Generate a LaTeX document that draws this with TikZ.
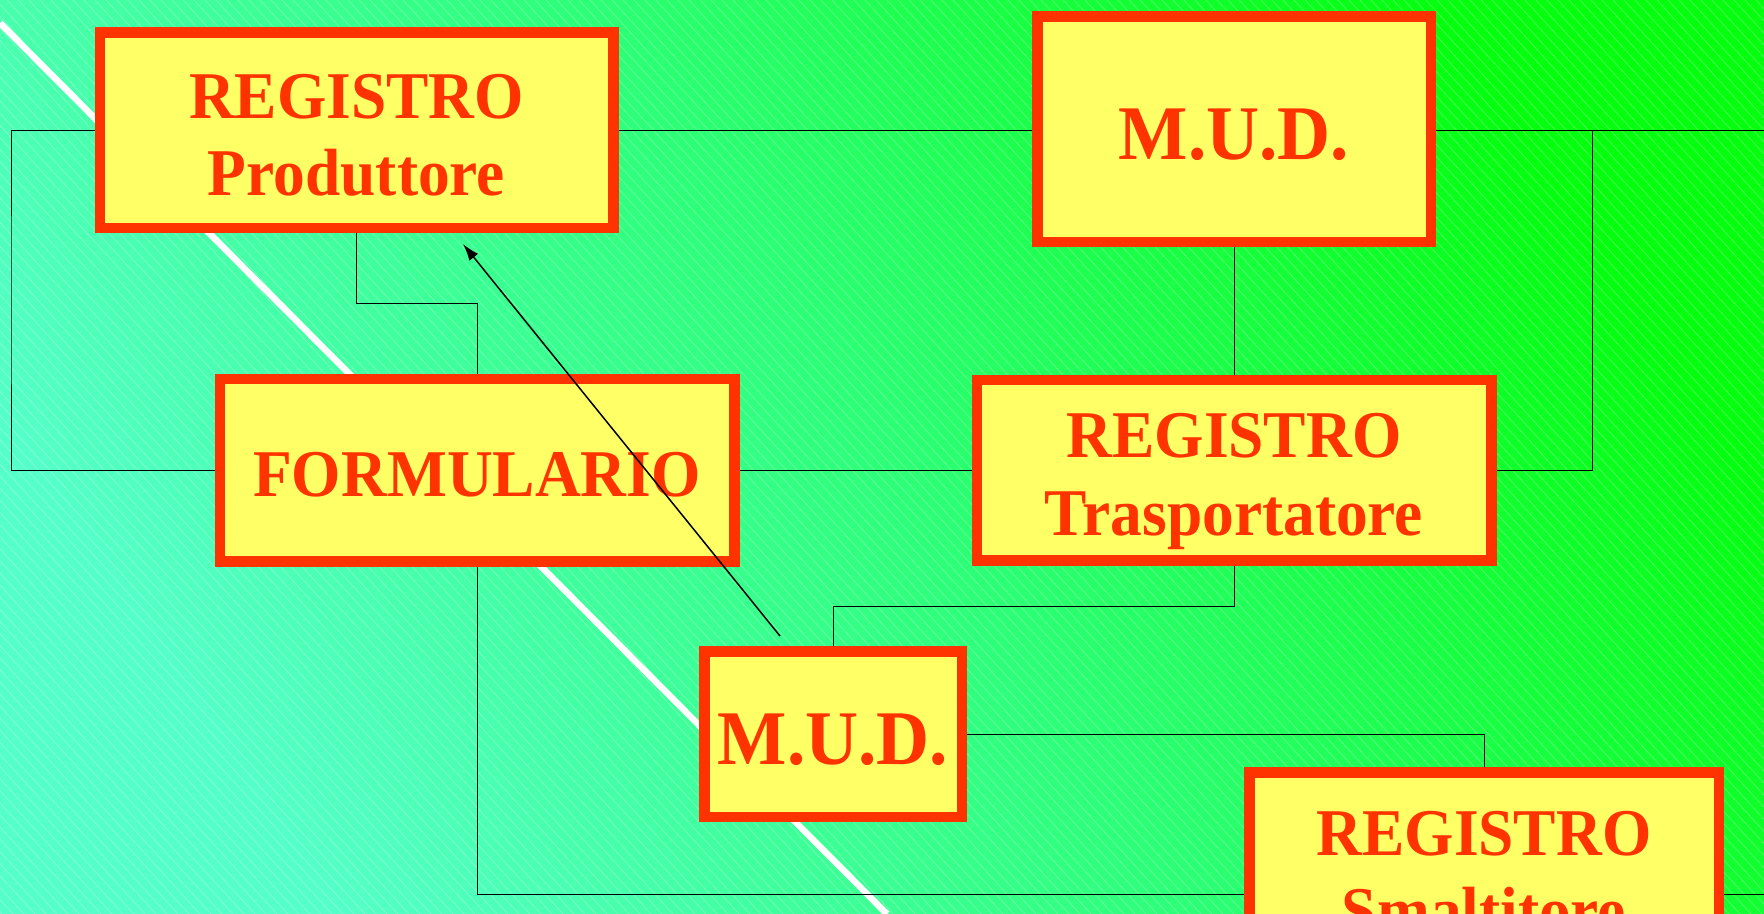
\documentclass[tikz,border=0pt]{standalone}
\usepackage{fontspec}
\newfontfamily\boxfont[FakeStretch=0.95]{Liberation Serif}
\usetikzlibrary{arrows.meta}
\definecolor{boxred}{RGB}{255,51,0}
\definecolor{boxyellow}{RGB}{255,255,102}
\definecolor{bgturq}{RGB}{85,255,200}
\definecolor{bgmid}{RGB}{45,255,120}
\definecolor{bggreen}{RGB}{5,255,15}
\pgfdeclarelayer{backdrop}
\pgfdeclarelayer{wires}
\pgfsetlayers{backdrop,wires,main}
\newcommand{\boxstrut}[1]{\rule{0pt}{#1}}
\tikzset{
  textdrop/.style={execute at begin node={\boxstrut{#1}}},
  regbox/.style={draw=boxred, fill=boxyellow, line width=1.05mm, inner sep=0pt,
    text=boxred, align=center,
    font=\boxfont\bfseries\fontsize{19}{22}\selectfont},
  mudbox/.style={regbox, textdrop=6.2mm, font=\boxfont\bfseries\fontsize{22}{25}\selectfont},
  link/.style={draw=black, line width=0.1mm},
}

\begin{document}
\begin{tikzpicture}[x=0.1mm,y=-0.1mm]
\useasboundingbox (0,0) rectangle (1764,914);

\begin{pgfonlayer}{backdrop}
\fill[bottom color=bgturq, top color=bggreen, middle color=bgmid, shading angle=-56] (0,0) rectangle (1764,914);
\foreach \i in {-840,-829,...,1764}
  \draw[white, opacity=.25, line width=0.08mm] (\i,0) -- ++(831,914);
\draw[white, line width=0.65mm] (0,23) -- (887,914);
\end{pgfonlayer}

\node[regbox, minimum width=51.35mm, minimum height=19.55mm] (rp) at (356.5,130) {\boxstrut{5.45mm}REGISTRO\\Produttore};
\node[mudbox, minimum width=39.35mm, minimum height=22.55mm] (mt) at (1234,129) {M.U.D.};
\node[regbox, textdrop=5.45mm, minimum width=51.45mm, minimum height=18.25mm] (form) at (477,470) {FORMULARIO};
\node[regbox, minimum width=51.45mm, minimum height=18.05mm] (rt) at (1234,470) {\boxstrut{6.7mm}REGISTRO\\Trasportatore};
\node[mudbox, minimum width=25.75mm, minimum height=16.55mm] (mb) at (833,734) {M.U.D.};
\node[regbox, minimum width=46.95mm, minimum height=19.05mm] (rs) at (1484,867.5) {\boxstrut{5.45mm}REGISTRO\\Smaltitore};

\coordinate (lft) at (11,300);
\coordinate (rgt) at (1592,130);
\coordinate (rgtT) at (1764,130);
\coordinate (rgtB) at (1764,894);
\coordinate (stepA) at (0,303);
\coordinate (stepB) at (0,606);
\coordinate (arrs) at (780,636);
\coordinate (arrt) at (463,244);

\begin{pgfonlayer}{wires}
\draw[link] (rp.west) -| (lft) |- (form.west);
\draw[link] (rp.east) -- (rp.east -| mt.west);
\draw[link] (mt.east |- rgtT) -- (rgtT);
\draw[link] (rt.east) -| (rgt);
\draw[link] (mt.south) -- (rt.north);
\draw[link] (form.east) -- (rt.west);
\draw[link] (rp.south) -- (rp.south |- stepA) -| (form.north);
\draw[link] (rt.south) -- (rt.south |- stepB) -| (mb.north);
\draw[link] (mb.east) -| (rs.north);
\draw[link] (form.south) |- (rgtB);
\end{pgfonlayer}

\draw[-{Latex[length=1.7mm,width=1.1mm]}, line width=0.15mm] (arrs) -- (arrt);
\end{tikzpicture}
\end{document}
